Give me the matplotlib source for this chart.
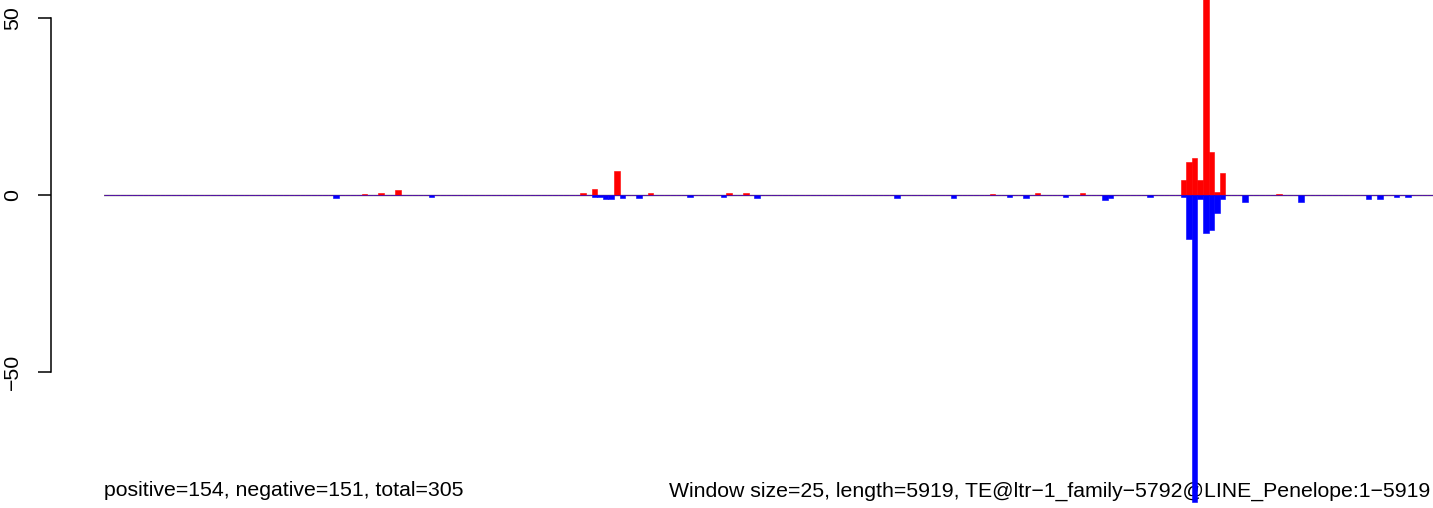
import numpy as np
import matplotlib
matplotlib.use("Agg")
import matplotlib.pyplot as plt

plt.rcParams['font.family'] = ['Liberation Sans', 'DejaVu Sans']

# window layout
window_size = 25
seq_length = 5919
n_windows = int(np.ceil(seq_length / window_size))

# visible positive-strand windows and values
pos_windows = [46, 49, 52, 85, 87, 91, 97, 111, 114, 158, 166, 174,
               192, 193, 194, 195, 196, 197, 198, 199, 209]
pos_values = [0.4, 0.5, 1.4, 0.5, 1.7, 6.8, 0.7, 0.5, 0.5, 0.4, 0.7, 0.7,
              4.2, 9.4, 10.5, 4.2, 86.0, 12.1, 0.9, 6.1, 0.4]

# visible negative-strand windows and values
neg_windows = [41, 58, 87, 88, 89, 90, 92, 95, 104, 110, 116, 141, 151, 161,
               164, 171, 178, 179, 186, 192, 193, 194, 195, 196, 197, 198, 199,
               203, 213, 225, 227, 230, 232]
neg_values = [-0.9, -0.5, -0.5, -0.7, -1.0, -1.0, -0.8, -0.8, -0.5, -0.5, -0.8,
              -0.8, -0.8, -0.5, -0.8, -0.5, -1.4, -0.8, -0.5, -0.5, -12.3, -86.7,
              -1.2, -10.6, -10.0, -5.0, -1.0, -1.9, -2.1, -1.1, -1.1, -0.6, -0.6]

# windows with only a trace of signal
trace_value = 0.12
trace_pos_windows = [18, 31, 37, 39, 54, 65, 71, 98, 100, 102, 107, 118, 121,
                     131, 132, 134, 137, 144, 149, 156, 157, 159, 160, 172, 173,
                     180, 189, 190, 202, 216, 234, 235, 236]
trace_neg_windows = [5, 27, 33, 43, 44, 45, 55, 60, 61, 62, 63, 68, 72, 76, 79,
                     81, 83, 105, 115, 120, 122, 123, 130, 133, 135, 136, 138,
                     139, 140, 142, 143, 145, 146, 147, 148, 162, 163, 167, 168,
                     169, 175, 181, 182, 188, 212, 217, 222, 224]

positive_total, negative_total = 154, 151
te_name = "TE@ltr\u22121_family\u22125792@LINE_Penelope:1\u22125919"

pos = np.zeros(n_windows)
neg = np.zeros(n_windows)
pos[trace_pos_windows] = trace_value
neg[trace_neg_windows] = -trace_value
pos[pos_windows] = pos_values
neg[neg_windows] = neg_values

W, H = 1433, 508
fig = plt.figure(figsize=(W / 100, H / 100), dpi=100)
left_px = 103.5
ax = fig.add_axes([left_px / W, 0, 1 - left_px / W, 1])

x = np.arange(n_windows)
ax.axhline(0, color='#6e6e6e', lw=1.0, zorder=1)
ax.bar(x, pos, width=1.0, align='edge', color='#ff0000', edgecolor='#ff0000',
       lw=0.4, zorder=3)
ax.bar(x, neg, width=1.0, align='edge', color='#0000ff', edgecolor='#0000ff',
       lw=0.4, zorder=3)

ax.set_xlim(0, n_windows)
ax.set_ylim(-313 / 3.54, 195 / 3.54)

for s in ['top', 'right', 'bottom']:
    ax.spines[s].set_visible(False)
ax.spines['left'].set_position(('outward', 53 * 0.72))
ax.spines['left'].set_bounds(-50, 50)
ax.spines['left'].set_linewidth(1.1)
ax.set_xticks([])
ax.set_yticks([-50, 0, 50])
ax.tick_params(axis='y', length=9.4, width=1.1, pad=11, labelsize=15.3,
               labelrotation=90)
for lab in ax.get_yticklabels():
    lab.set_va('center')

ax.text(left_px / W, 11.5 / H,
        f"positive={positive_total}, negative={negative_total}, total={positive_total + negative_total}",
        transform=fig.transFigure, ha='left', va='baseline', fontsize=15.3,
        zorder=2, clip_on=False)
ax.text(1430 / W, 11.5 / H,
        f"Window size={window_size}, length={seq_length}, {te_name}",
        transform=fig.transFigure, ha='right', va='baseline', fontsize=15.3,
        zorder=2, clip_on=False)

fig.savefig("out.png", dpi=100)
